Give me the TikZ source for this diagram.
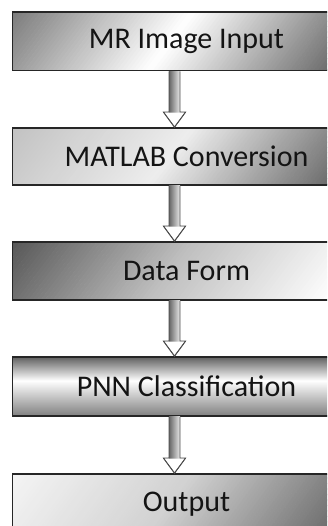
\documentclass[tikz,border=0pt]{standalone}
\usepackage{fontspec}
\setmainfont{Carlito}
\usetikzlibrary{calc}
\pgfdeclareverticalshading{shD}{100bp}{color(0bp)=(black!50); color(25bp)=(black!50); color(55bp)=(white); color(75bp)=(black!62); color(100bp)=(black!62)}
% #1 centre y, #2 half height, #3 slant offset, #4 left, #5 middle, #6 right colour
\newcommand\stripfill[6]{%
  \colorlet{cL}{#4}\colorlet{cM}{#5}\colorlet{cR}{#6}%
  \begin{scope}
    \clip (12,#1-#2) rectangle (330,#1+#2);
    \foreach \i in {0,...,89}{
      \pgfmathsetmacro{\tpos}{(\i+0.5)/90}
      \pgfmathsetmacro{\xa}{12-#3+(\i/90)*(318+2*#3)}
      \pgfmathsetmacro{\xb}{\xa+(318+2*#3)/90+0.6}
      \pgfmathsetmacro{\pmix}{\tpos<0.5 ? 200*\tpos : 200*(\tpos-0.5)}
      \ifdim\tpos pt<0.5pt \colorlet{cc}{cM!\pmix!cL}\else\colorlet{cc}{cR!\pmix!cM}\fi
      \fill[cc] (\xa-#3,#1+#2) -- (\xb-#3,#1+#2) -- (\xb+#3,#1-#2) -- (\xa+#3,#1-#2) -- cycle;
    }
  \end{scope}}
\begin{document}
\begin{tikzpicture}[x=1pt,y=-1pt,
  box/.style={draw=black!85, line width=1.8pt, minimum width=348pt, minimum height=#1,
    inner sep=0pt, font=\fontsize{30}{35}\selectfont, text=black!92},
  shaft/.style={left color=black!60, right color=black!8},
  arrowline/.style={draw=black!70, line width=0.9pt, line join=miter}]
\useasboundingbox (0,0) rectangle (327,526);
\clip (0,0) rectangle (327,526);
\stripfill{41.25}{29.25}{22}{black!52}{white}{black!58}
\stripfill{156.5}{28.5}{22}{black!24}{black!7}{black!58}
\stripfill{271}{29}{22}{black!66}{black!25}{white}
\begin{scope}
  \clip (12,357) rectangle (330,416);
  \shade[shading=shD] (12,357) rectangle (330,416);
\end{scope}
\stripfill{504}{30}{22}{black!4}{black!18}{black!58}
\node[box=58.5pt] (b1) at (186.5, 41.25) {MR Image Input};
\node[box=57pt] (b2) at (186.5, 156.5) {MATLAB Conversion};
\node[box=58pt] (b3) at (186.5, 271) {Data Form};
\node[box=59pt] (b4) at (186.5, 386.5) {PNN Classification};
\node[box=60pt] (b5) at (186.5, 504) {Output};
\foreach \a/\b in {b1/b2,b2/b3,b3/b4,b4/b5}{
  \coordinate (s) at ($(\a.south)+(-12,0)$);
  \coordinate (t) at ($(\b.north)+(-12,0)$);
  \shade[shaft] ($(s)+(-5.5,0)$) rectangle ($(t)+(5.5,-15)$);
  \draw[arrowline] ($(s)+(-5.5,0)$) -- ($(t)+(-5.5,-15)$) -- ($(t)+(-11,-15)$) -- (t)
     -- ($(t)+(11,-15)$) -- ($(t)+(5.5,-15)$) -- ($(s)+(5.5,0)$);
  \fill[white] ($(t)+(-10,-14.5)$) -- ($(t)+(10,-14.5)$) -- ($(t)+(0,-1.5)$) -- cycle;
  \draw[arrowline] ($(t)+(-11,-15)$) -- (t) -- ($(t)+(11,-15)$);
}
\end{tikzpicture}
\end{document}
